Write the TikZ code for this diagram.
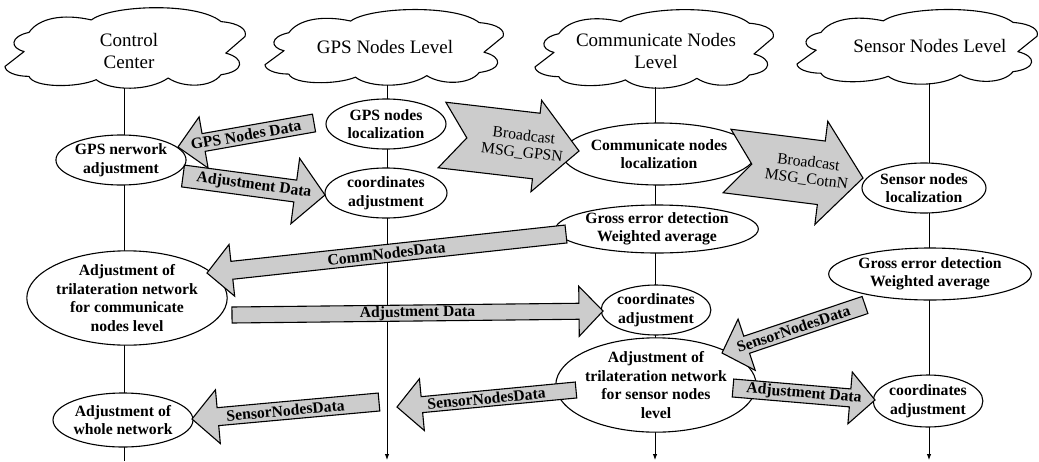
\documentclass[tikz,border=0pt]{standalone}
\usepackage{fontspec}
\setmainfont{Liberation Serif}
\usetikzlibrary{shapes.geometric,calc,arrows.meta}
\newcommand\mycloud[4]{%
  \begin{scope}[shift={(#1,#2)},x=#3pt,y=-#4pt]
    \draw[cloudline] (0.10,0.33) .. controls (0.14,0.16) and (0.24,0.10) .. (0.36,0.18)
      .. controls (0.44,0.00) and (0.80,-0.04) .. (0.90,0.20)
      .. controls (0.98,0.22) and (1.01,0.30) .. (1.00,0.38)
      -- (0.92,0.58)
      .. controls (1.00,0.64) and (1.00,0.80) .. (0.90,0.84)
      .. controls (0.86,1.00) and (0.74,1.00) .. (0.68,0.88)
      .. controls (0.60,1.04) and (0.44,1.04) .. (0.38,0.90)
      .. controls (0.30,1.00) and (0.12,1.00) .. (0.10,0.86)
      .. controls (0.04,0.86) and (0.00,0.80) .. (0.00,0.74)
      -- (0.08,0.56)
      .. controls (0.02,0.52) and (0.02,0.38) .. cycle;
  \end{scope}}
% #1 tail, #2 tip, #3 shaft half width, #4 head half width, #5 head length, #6 notch, #7 label, #8 prefix
\newcommand\barrow[8]{%
  \coordinate (#8b) at ($(#2)!#5pt!(#1)$);
  \coordinate (#8n) at ($(#1)!#6pt!(#2)$);
  \filldraw[blockarrow] ($(#1)!#3pt!90:(#2)$) -- ($(#8b)!#3pt!90:(#2)$) -- ($(#8b)!#4pt!90:(#2)$)
     -- (#2) -- ($(#8b)!#4pt!-90:(#2)$) -- ($(#8b)!#3pt!-90:(#2)$) -- ($(#1)!#3pt!-90:(#2)$)
     -- (#8n) -- cycle;
  \path (#8n) -- node[arrowlabel,sloped] {#7} (#2);
}
\begin{document}
\begin{tikzpicture}[x=1pt,y=-1pt,
  ell/.style={draw,ellipse,line width=1.1pt,fill=white,inner sep=0pt,align=center,
    font=\bfseries\fontsize{15.7}{18.5}\selectfont},
  cloudtxt/.style={align=center,inner sep=0pt,font=\fontsize{19}{22}\selectfont},
  cloudline/.style={line width=1.1pt,line join=round},
  life/.style={line width=0.9pt},
  lifearr/.style={line width=0.9pt,-{Latex[length=6pt,width=4.5pt]}},
  blockarrow/.style={fill=gray!40,draw=black,line width=1.1pt,line join=miter},
  arrowlabel/.style={align=center,inner sep=0pt,font=\bfseries\fontsize{15.7}{17}\selectfont}]
\useasboundingbox (0,0) rectangle (1039,461);

% clouds
\mycloud{5}{5}{240}{83}
\mycloud{265}{7}{238}{78}
\mycloud{535}{7}{238}{81}
\mycloud{797}{7}{240}{77}
\node[cloudtxt] (tcc) at (129,51) {Control\\Center};
\node[cloudtxt] (tgps) at (385,47) {GPS Nodes Level};
\node[cloudtxt] (tcom) at (656,51) {Communicate Nodes\\Level};
\node[cloudtxt] (tsen) at (930,46) {Sensor Nodes Level};

% lifelines
\coordinate (l1t) at (124,88);  \coordinate (l1b) at (124,461);
\coordinate (l2t) at (387,85);  \coordinate (l2b) at (387,460);
\coordinate (l3t) at (655,87);  \coordinate (l3b) at (655,460);
\coordinate (l4t) at (929,83);  \coordinate (l4b) at (929,460);
\draw[life] (l1t) -- (l1b);
\draw[lifearr] (l2t) -- (l2b);
\draw[lifearr] (l3t) -- (l3b);
\draw[lifearr] (l4t) -- (l4b);

% ellipses
\node[ell,minimum width=122,minimum height=50] (ga) at (121,160) {GPS nerwork\\adjustment};
\node[ell,minimum width=164,minimum height=86] (tri1) at (127,298) {Adjustment of\\trilateration network\\for communicate\\nodes level};
\node[ell,minimum width=136,minimum height=54] (whole) at (123,420) {Adjustment of\\whole network};
\node[ell,minimum width=120,minimum height=50] (gl) at (386,124) {GPS nodes\\localization};
\node[ell,minimum width=122,minimum height=50] (gc) at (386,193) {coordinates\\adjustment};
\node[ell,minimum width=145,minimum height=62] (cl) at (659,154) {Communicate nodes\\localization};
\node[ell,minimum width=180,minimum height=48] (cg) at (657,229) {Gross error detection\\Weighted average};
\node[ell,minimum width=108,minimum height=50] (cc) at (656,310) {coordinates\\adjustment};
\node[ell,minimum width=152,minimum height=90] (tri2) at (656,385) {Adjustment of\\trilateration network\\for sensor nodes\\level};
\node[ell,minimum width=122,minimum height=50] (sl) at (924,188) {Sensor nodes\\localization};
\node[ell,minimum width=174,minimum height=52] (sg) at (930,274) {Gross error detection\\Weighted average};
\node[ell,minimum width=108,minimum height=52] (sc) at (928,401) {coordinates\\adjustment};

% block arrow end points
\coordinate (a1t) at (314,123); \coordinate (a1h) at (178,147);
\coordinate (a2t) at (183,176); \coordinate (a2h) at (325,195);
\coordinate (a3t) at (442,135); \coordinate (a3h) at (579,151);
\coordinate (a4t) at (727,161); \coordinate (a4h) at (863,178);
\coordinate (a5t) at (566,234); \coordinate (a5h) at (207,273);
\coordinate (a6t) at (232,315); \coordinate (a6h) at (603,311);
\coordinate (a7t) at (865,305); \coordinate (a7h) at (722,353);
\coordinate (a8t) at (733,388); \coordinate (a8h) at (875,400);
\coordinate (a9t) at (576,390); \coordinate (a9h) at (397,407);
\coordinate (a10t) at (379,402); \coordinate (a10h) at (192,419);

\barrow{a1t}{a1h}{9}{26}{26}{0}{GPS Nodes Data}{a1}
\barrow{a2t}{a2h}{11}{33}{30}{0}{Adjustment Data}{a2}
\barrow{a3t}{a3h}{33}{46}{43}{25}{\mdseries Broadcast\\\mdseries MSG\_GPSN}{a3}
\barrow{a4t}{a4h}{32}{52}{42}{25}{\mdseries Broadcast\\\mdseries MSG\_CotnN}{a4}
\barrow{a5t}{a5h}{9}{26}{25}{0}{CommNodesData}{a5}
\barrow{a6t}{a6h}{8}{25}{24}{0}{Adjustment Data}{a6}
\barrow{a7t}{a7h}{9}{27}{26}{0}{SensorNodesData}{a7}
\barrow{a8t}{a8h}{9}{26}{25}{0}{Adjustment Data}{a8}
\barrow{a9t}{a9h}{8}{26}{25}{0}{SensorNodesData}{a9}
\barrow{a10t}{a10h}{9}{27}{26}{0}{SensorNodesData}{a10}
\end{tikzpicture}
\end{document}
